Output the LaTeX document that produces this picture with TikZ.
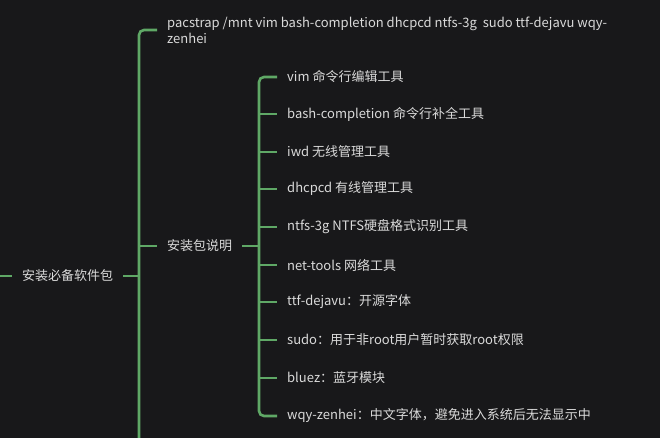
\documentclass[tikz,border=0pt]{standalone}
\usepackage{fontspec}
\setmainfont{Noto Sans CJK SC}
\usetikzlibrary{calc}
\begin{document}
\begin{tikzpicture}[x=1pt,y=1pt,
  every node/.style={text=txt,font=\fontsize{13}{16}\selectfont,inner sep=0pt,anchor=west},
  link/.style={draw=grn,line width=2.6pt,rounded corners=5pt}]
\definecolor{bg}{HTML}{18181A}
\definecolor{grn}{HTML}{5FA866}
\definecolor{txt}{HTML}{DADADA}
\fill[bg] (0,0) rectangle (660,-438);
\useasboundingbox (0,0) rectangle (660,-438);
% root
\coordinate (in) at (0,-276);
\node (root) at (22,-276) {安装必备软件包};
\coordinate (v1) at (139,-276);
\coordinate (v1bot) at (139,-445);
\node (pac) at (167,-30) [align=left] {pacstrap /mnt vim bash-completion dhcpcd ntfs-3g\ \ sudo ttf-dejavu wqy-\\zenhei};
\node (desc) at (167,-246) {安装包说明};
\draw[link] (in) -- ($(root.west)+(-10,0)$);
\draw[link] ($(root.east)+(10,0)$) -- (v1);
\draw[link] ($(pac.west)+(-10,0)$) -- (139,-30) -- (v1bot);
\draw[link] (139,-246) -- ($(desc.west)+(-10,0)$);
% children
\coordinate (v2) at (259,-246);
\node (c1) at (287,-77) {vim 命令行编辑工具};
\node (c2) at (287,-114) {bash-completion 命令行补全工具};
\node (c3) at (287,-152) {iwd 无线管理工具};
\node (c4) at (287,-189) {dhcpcd 有线管理工具};
\node (c5) at (287,-227) {ntfs-3g NTFS硬盘格式识别工具};
\node (c6) at (287,-265) {net-tools 网络工具};
\node (c7) at (287,-302) {ttf-dejavu：开源字体};
\node (c8) at (287,-340) {sudo：用于非root用户暂时获取root权限};
\node (c9) at (287,-378) {bluez：蓝牙模块};
\node (c10) at (287,-416) {wqy-zenhei：中文字体，避免进入系统后无法显示中};
\draw[link] ($(desc.east)+(10,0)$) -- (v2);
\draw[link] ($(c1.west)+(-10,0)$) -- (259,-77) -- (259,-416) -- ($(c10.west)+(-10,0)$);
\foreach \c in {c2,c3,c4,c5,c6,c7,c8,c9}
  \draw[link] (v2 |- \c.west) -- ($(\c.west)+(-10,0)$);
\end{tikzpicture}
\end{document}
